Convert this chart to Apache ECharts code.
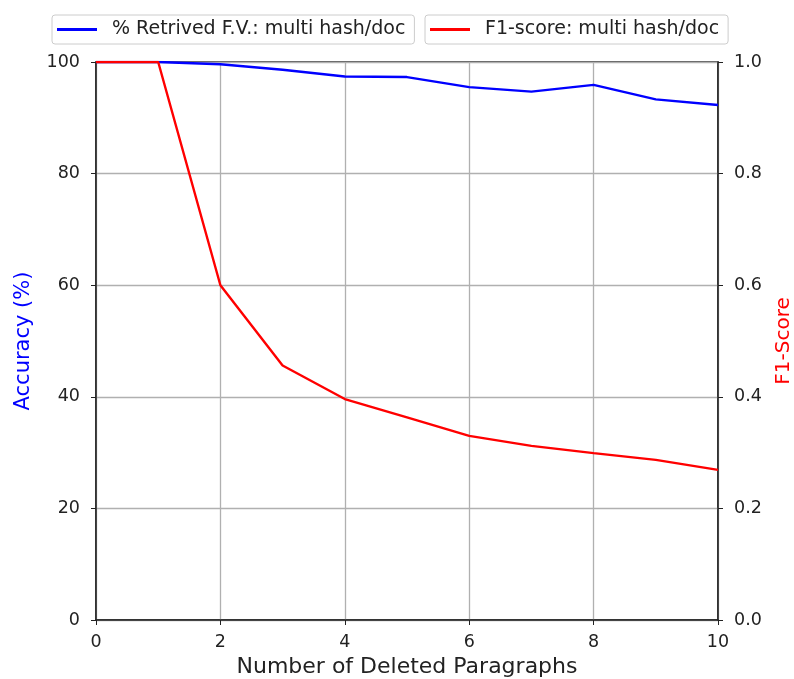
<!DOCTYPE html>
<html><head><meta charset="utf-8">
<script src="https://cdn.jsdelivr.net/npm/echarts@6/dist/echarts.min.js"></script>
<style>html,body{margin:0;padding:0;background:#fff}#c{width:794px;height:679px}</style>
</head><body><div id="c"></div>
<script>
const deletedParagraphs = [0,1,2,3,4,5,6,7,8,9,10];
const retrievedPct = [100,100,99.6,98.6,97.4,97.3,95.5,94.7,95.9,93.3,92.3];
const f1Score = [1.0,1.0,0.600,0.456,0.396,0.363,0.330,0.312,0.299,0.287,0.269];
const seriesNames = ['% Retrived F.V.: multi hash/doc','F1-score: multi hash/doc'];

const font = 'DejaVu Sans';
const chart = echarts.init(document.getElementById('c'));
const tickLabel = {color:'#222', fontFamily:font, fontSize:17.5};
const legendText = {fontFamily:font, fontSize:19, color:'#222', padding:[0,0,0,10]};
chart.setOption({
  animation:false,
  textStyle:{fontFamily:font},
  legend:[
    {data:[seriesNames[0]], left:52, top:15, itemWidth:40, itemHeight:3,
     borderColor:'#ccc', borderWidth:1, borderRadius:3, padding:[5,9,5,5],
     textStyle:legendText, icon:'rect'},
    {data:[seriesNames[1]], left:425, top:15, itemWidth:40, itemHeight:3,
     borderColor:'#ccc', borderWidth:1, borderRadius:3, padding:[5,9,5,5],
     textStyle:legendText, icon:'rect'}
  ],
  grid:{left:96, right:76, top:62, bottom:59, containLabel:false, outerBoundsMode:'none',
        show:true, borderColor:'#222', borderWidth:1.5, backgroundColor:'transparent'},
  xAxis:{type:'value', min:0, max:10, interval:2,
    name:'Number of Deleted Paragraphs', nameLocation:'middle', nameGap:35,
    nameTextStyle:{fontFamily:font, fontSize:22, color:'#222'},
    axisLine:{show:true, lineStyle:{color:'#222', width:1.5}},
    axisTick:{show:true, length:5, lineStyle:{color:'#222'}},
    axisLabel:Object.assign({margin:13}, tickLabel),
    splitLine:{show:true, lineStyle:{color:'#b0b0b0', width:1.3}}},
  yAxis:[
    {type:'value', min:0, max:100, interval:20, position:'left',
     name:'Accuracy (%)', nameLocation:'middle', nameGap:62, nameRotate:90,
     nameTextStyle:{fontFamily:font, fontSize:21, color:'#0000ff'},
     axisLine:{show:true, lineStyle:{color:'#222', width:1.5}},
     axisTick:{show:true, length:5, lineStyle:{color:'#222'}},
     axisLabel:Object.assign({margin:16}, tickLabel),
     splitLine:{show:true, lineStyle:{color:'#b0b0b0', width:1.3}}},
    {type:'value', min:0, max:1, interval:0.2, position:'right',
     name:'F1-Score', nameLocation:'middle', nameGap:56, nameRotate:90,
     nameTextStyle:{fontFamily:font, fontSize:20, color:'#ff0000'},
     axisLine:{show:true, lineStyle:{color:'#222', width:1.5}},
     axisTick:{show:true, length:5, lineStyle:{color:'#222'}},
     axisLabel:Object.assign({margin:16, formatter:v=>v.toFixed(1)}, tickLabel),
     splitLine:{show:false}}
  ],
  series:[
    {name:seriesNames[0], type:'line', yAxisIndex:0, symbol:'none', color:'#0000ff',
     lineStyle:{color:'#0000ff', width:2.4},
     data:deletedParagraphs.map((x,i)=>[x,retrievedPct[i]])},
    {name:seriesNames[1], type:'line', yAxisIndex:1, symbol:'none', color:'#ff0000',
     lineStyle:{color:'#ff0000', width:2.4},
     data:deletedParagraphs.map((x,i)=>[x,f1Score[i]])}
  ]
});
</script></body></html>
